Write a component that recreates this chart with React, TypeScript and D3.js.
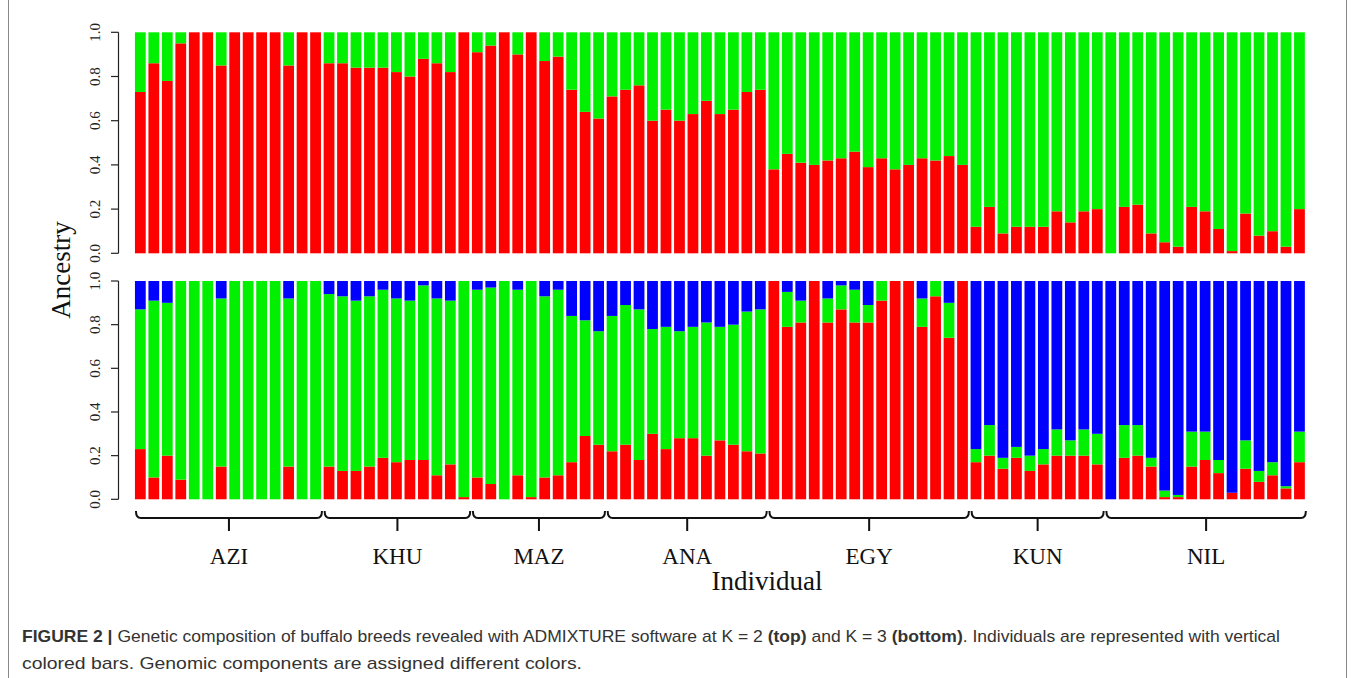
import * as d3 from "d3";

// populations, in plot order, with number of individuals in each
const groups = ["AZI", "KHU", "MAZ", "ANA", "EGY", "KUN", "NIL"];
const groupSizes = [14, 11, 10, 12, 15, 10, 15];

// K = 2 (top panel)
const k2Red = [
  0.73, 0.86, 0.78, 0.95, 1, 1, 0.85, 1, 1, 1, 1, 0.85, 1, 1,
  0.86, 0.86, 0.84, 0.84, 0.84, 0.82, 0.8, 0.88, 0.86, 0.82, 1,
  0.91, 0.94, 1, 0.9, 1, 0.87, 0.89, 0.74, 0.64, 0.61,
  0.71, 0.74, 0.76, 0.6, 0.65, 0.6, 0.63, 0.69, 0.63, 0.65, 0.73, 0.74,
  0.38, 0.45, 0.41, 0.4, 0.42, 0.43, 0.46, 0.39, 0.43, 0.38, 0.4, 0.43, 0.42, 0.44, 0.4,
  0.12, 0.21, 0.09, 0.12, 0.12, 0.12, 0.19, 0.14, 0.19, 0.2,
  0, 0.21, 0.22, 0.09, 0.05, 0.03, 0.21, 0.19, 0.11, 0.01, 0.18, 0.08, 0.1, 0.03, 0.2
];
const k2Green = [
  0.27, 0.14, 0.22, 0.05, 0, 0, 0.15, 0, 0, 0, 0, 0.15, 0, 0,
  0.14, 0.14, 0.16, 0.16, 0.16, 0.18, 0.2, 0.12, 0.14, 0.18, 0,
  0.09, 0.06, 0, 0.1, 0, 0.13, 0.11, 0.26, 0.36, 0.39,
  0.29, 0.26, 0.24, 0.4, 0.35, 0.4, 0.37, 0.31, 0.37, 0.35, 0.27, 0.26,
  0.62, 0.55, 0.59, 0.6, 0.58, 0.57, 0.54, 0.61, 0.57, 0.62, 0.6, 0.57, 0.58, 0.56, 0.6,
  0.88, 0.79, 0.91, 0.88, 0.88, 0.88, 0.81, 0.86, 0.81, 0.8,
  1, 0.79, 0.78, 0.91, 0.95, 0.97, 0.79, 0.81, 0.89, 0.99, 0.82, 0.92, 0.9, 0.97, 0.8
];

// K = 3 (bottom panel)
const k3Red = [
  0.23, 0.1, 0.2, 0.09, 0, 0, 0.15, 0, 0, 0, 0, 0.15, 0, 0,
  0.15, 0.13, 0.13, 0.15, 0.19, 0.17, 0.18, 0.18, 0.11, 0.16, 0.01,
  0.1, 0.07, 0, 0.11, 0.01, 0.1, 0.11, 0.17, 0.29, 0.25,
  0.22, 0.25, 0.18, 0.3, 0.23, 0.28, 0.28, 0.2, 0.27, 0.25, 0.22, 0.21,
  1, 0.79, 0.81, 1, 0.81, 0.87, 0.81, 0.81, 0.91, 1, 1, 0.79, 0.93, 0.74, 1,
  0.17, 0.2, 0.14, 0.19, 0.13, 0.16, 0.2, 0.2, 0.2, 0.16,
  0, 0.19, 0.2, 0.15, 0.01, 0.01, 0.15, 0.18, 0.12, 0.03, 0.14, 0.08, 0.11, 0.05, 0.17
];
const k3Green = [
  0.64, 0.81, 0.7, 0.91, 1, 1, 0.77, 1, 1, 1, 1, 0.77, 1, 1,
  0.79, 0.8, 0.78, 0.78, 0.77, 0.75, 0.73, 0.8, 0.81, 0.75, 0.99,
  0.86, 0.9, 1, 0.85, 0.99, 0.83, 0.85, 0.67, 0.53, 0.52,
  0.62, 0.64, 0.69, 0.48, 0.56, 0.49, 0.51, 0.61, 0.52, 0.55, 0.64, 0.66,
  0, 0.16, 0.1, 0, 0.11, 0.11, 0.15, 0.08, 0.09, 0, 0, 0.13, 0.07, 0.16, 0,
  0.06, 0.14, 0.05, 0.05, 0.07, 0.07, 0.12, 0.07, 0.12, 0.14,
  0, 0.15, 0.14, 0.04, 0.03, 0.01, 0.16, 0.13, 0.06, 0, 0.13, 0.05, 0.06, 0.01, 0.14
];
const k3Blue = [
  0.13, 0.09, 0.1, 0, 0, 0, 0.08, 0, 0, 0, 0, 0.08, 0, 0,
  0.06, 0.07, 0.09, 0.07, 0.04, 0.08, 0.09, 0.02, 0.08, 0.09, 0,
  0.04, 0.03, 0, 0.04, 0, 0.07, 0.04, 0.16, 0.18, 0.23,
  0.16, 0.11, 0.13, 0.22, 0.21, 0.23, 0.21, 0.19, 0.21, 0.2, 0.14, 0.13,
  0, 0.05, 0.09, 0, 0.08, 0.02, 0.04, 0.11, 0, 0, 0, 0.08, 0, 0.1, 0,
  0.77, 0.66, 0.81, 0.76, 0.8, 0.77, 0.68, 0.73, 0.68, 0.7,
  1, 0.66, 0.66, 0.81, 0.96, 0.98, 0.69, 0.69, 0.82, 0.97, 0.73, 0.87, 0.83, 0.94, 0.69
];

const yTicks = [0, 0.2, 0.4, 0.6, 0.8, 1];
const colors: Record<string, string> = { red: "#ff0000", green: "#00f000", blue: "#0000ff" };

const W = 1355;
const H = 678;
const serif = "'Liberation Serif', 'Times New Roman', serif";
const sans = "'Liberation Sans', Arial, sans-serif";

type Row = { red: number; green: number; blue: number };

function Panel({ rows, keys, y }: { rows: Row[]; keys: string[]; y: d3.ScaleLinear<number, number> }) {
  const x = d3
    .scaleBand<number>()
    .domain(d3.range(rows.length))
    .range([133.6, 1306.2])
    .paddingInner(0.2)
    .paddingOuter(0.1);
  const series = d3.stack<Row>().keys(keys)(rows);
  const [y0, y1] = y.range();
  return (
    <g>
      {series.map((s) =>
        s.map((d, i) => {
          const h = y(d[0]) - y(d[1]);
          if (h <= 0) return null;
          return (
            <rect
              key={`${s.key}-${i}`}
              x={x(i)}
              y={y(d[1])}
              width={x.bandwidth()}
              height={h}
              fill={colors[s.key]}
            />
          );
        })
      )}
      <line x1={118.5} x2={118.5} y1={y0} y2={y1} stroke="#222" strokeWidth={1.2} />
      {yTicks.map((t) => (
        <g key={t}>
          <line x1={111} x2={118.5} y1={y(t)} y2={y(t)} stroke="#222" strokeWidth={1.2} />
          <text
            transform={`translate(100, ${y(t)}) rotate(-90)`}
            textAnchor="middle"
            fontFamily={serif}
            fontSize={15}
            fill="#222"
          >
            {t.toFixed(1)}
          </text>
        </g>
      ))}
    </g>
  );
}

export default function App() {
  const n = k2Red.length;
  const rows2: Row[] = d3.range(n).map((i) => ({ red: k2Red[i], green: k2Green[i], blue: 0 }));
  const rows3: Row[] = d3.range(n).map((i) => ({ red: k3Red[i], green: k3Green[i], blue: k3Blue[i] }));

  const yTop = d3.scaleLinear().domain([0, 1]).range([253.3, 32.3]);
  const yBottom = d3.scaleLinear().domain([0, 1]).range([499.3, 281]);

  const x = d3
    .scaleBand<number>()
    .domain(d3.range(n))
    .range([133.6, 1306.2])
    .paddingInner(0.2)
    .paddingOuter(0.1);

  // bracket extents from group sizes
  const starts = d3.cumsum([0, ...groupSizes]);
  const brackets = groups.map((g, gi) => {
    const first = starts[gi];
    const last = starts[gi + 1] - 1;
    const x0 = (x(first) ?? 0) + 1;
    const x1 = (x(last) ?? 0) + x.bandwidth() + 1;
    return { g, x0, x1, xm: (x0 + x1) / 2 };
  });
  const yb = 518;

  return (
    <svg width={W} height={H} style={{ position: "absolute", left: 0, top: 0, background: "#fff" }}>
      <rect width={W} height={H} fill="#fff" />
      <line x1={8.5} x2={8.5} y1={0} y2={H} stroke="#888" />
      <line x1={1346.5} x2={1346.5} y1={0} y2={H} stroke="#888" />

      <Panel rows={rows2} keys={["red", "green"]} y={yTop} />
      <Panel rows={rows3} keys={["red", "green", "blue"]} y={yBottom} />

      <text
        transform="translate(70, 270) rotate(-90)"
        textAnchor="middle"
        fontFamily={serif}
        fontSize={27}
        fill="#111"
      >
        Ancestry
      </text>

      {brackets.map((b) => (
        <g key={b.g}>
          <path
            d={`M${b.x0},${yb - 7} Q${b.x0},${yb} ${b.x0 + 5},${yb} L${b.x1 - 5},${yb} Q${b.x1},${yb} ${b.x1},${yb - 7} M${b.xm},${yb} L${b.xm},${yb + 13}`}
            fill="none"
            stroke="#111"
            strokeWidth={2}
          />
          <text x={b.xm} y={564} textAnchor="middle" fontFamily={serif} fontSize={23} fill="#111">
            {b.g}
          </text>
        </g>
      ))}

      <text x={767} y={590} textAnchor="middle" fontFamily={serif} fontSize={27} fill="#111">
        Individual
      </text>

      <text x={22} y={642} fontFamily={sans} fontSize={17} fill="#333" textLength={1258} lengthAdjust="spacingAndGlyphs">
        <tspan fontWeight="bold">FIGURE 2 |</tspan> Genetic composition of buffalo breeds revealed with ADMIXTURE software at K = 2{" "}
        <tspan fontWeight="bold">(top)</tspan> and K = 3 <tspan fontWeight="bold">(bottom)</tspan>. Individuals are represented with vertical
      </text>
      <text x={22} y={669} fontFamily={sans} fontSize={17} fill="#333" textLength={560} lengthAdjust="spacingAndGlyphs">
        colored bars. Genomic components are assigned different colors.
      </text>
    </svg>
  );
}
